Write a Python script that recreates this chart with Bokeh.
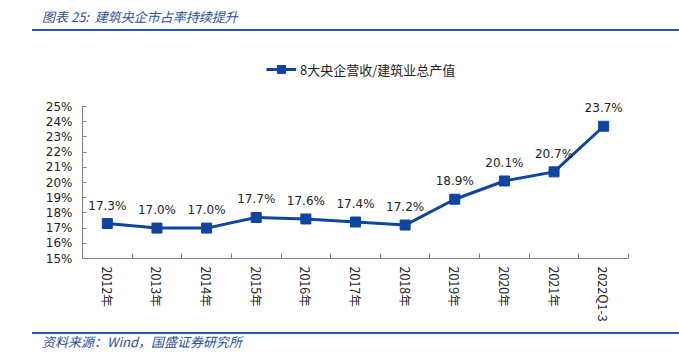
import math
from bokeh.plotting import figure
from bokeh.layouts import column
from bokeh.core.properties import value
from bokeh.models import (Range1d, FixedTicker, LabelSet, Div,
                          ColumnDataSource, Legend, LegendItem)
from bokeh.embed import file_html
from bokeh.resources import INLINE

categories = ["2012年", "2013年", "2014年", "2015年", "2016年", "2017年",
              "2018年", "2019年", "2020年", "2021年", "2022Q1-3"]
share = [17.3, 17.0, 17.0, 17.7, 17.6, 17.4, 17.2, 18.9, 20.1, 20.7, 23.7]
y_ticks = list(range(15, 26))
series_name = "8大央企营收/建筑业总产值"
title_text = "图表 25:&nbsp; 建筑央企市占率持续提升"
source_text = "资料来源：Wind，国盛证券研究所"

W = 679
TOP_H, BOT_H = 36, 30
FIG_H = 356 - TOP_H - BOT_H
FL, FR, FB = 82, 628, 258
Y_LO, Y_HI = 15, 25
PX_PER_UNIT = (258 - 106) / (Y_HI - Y_LO)
FT = 50
y_end = Y_HI + (106 - FT) / PX_PER_UNIT

BLUE = "#0E45A0"
HEAD = "#2A4F9E"
RULE = "#2E5AAC"
NUM_FONT = "DejaVu Sans"
CJK = "Noto Sans CJK SC"

n = len(categories)
xs = [i + 0.5 for i in range(n)]
src = ColumnDataSource(dict(x=xs, y=share, lab=[f"{v:.1f}%" for v in share]))

p = figure(width=W, height=FIG_H, output_backend="svg", toolbar_location=None,
           x_range=Range1d(0, n), y_range=Range1d(Y_LO, y_end),
           min_border_left=FL, min_border_right=W - FR,
           min_border_top=FT - TOP_H, min_border_bottom=TOP_H + FIG_H - FB)
p.outline_line_color = None
p.xgrid.visible = False
p.ygrid.visible = False

p.yaxis.ticker = FixedTicker(ticks=y_ticks)
p.yaxis.bounds = (Y_LO, Y_HI)
p.yaxis.major_label_overrides = {v: f"{v}%" for v in y_ticks}
p.yaxis.major_tick_in = 4
p.yaxis.major_tick_out = 0
p.yaxis.minor_tick_in = 0
p.yaxis.minor_tick_out = 0
p.yaxis.axis_line_color = "#808080"
p.yaxis.major_tick_line_color = "#808080"
p.yaxis.major_label_text_font = NUM_FONT
p.yaxis.major_label_text_font_size = "12px"
p.yaxis.major_label_text_color = "#222222"
p.yaxis.major_label_standoff = 10

p.xaxis.ticker = FixedTicker(ticks=xs, minor_ticks=list(range(n + 1)))
p.xaxis.major_label_overrides = {x: c for x, c in zip(xs, categories)}
p.xaxis.major_tick_in = 0
p.xaxis.major_tick_out = 0
p.xaxis.minor_tick_in = 5
p.xaxis.minor_tick_out = 0
p.xaxis.axis_line_color = "#808080"
p.xaxis.minor_tick_line_color = "#808080"
p.xaxis.major_label_orientation = -math.pi / 2
p.xaxis.major_label_text_font = CJK
p.xaxis.major_label_text_font_size = "12.5px"
p.xaxis.major_label_text_color = "#222222"
p.xaxis.major_label_standoff = 8

lr = p.line("x", "y", source=src, line_color=BLUE, line_width=3)
sr = p.scatter("x", "y", source=src, marker="square", size=10,
               fill_color=BLUE, line_color=BLUE)

labels = LabelSet(x="x", y="y", text="lab", source=src, text_align="center",
                  text_baseline="middle", y_offset=18, text_font=value(NUM_FONT),
                  text_font_size=value("12px"), text_color="#222222")
p.add_layout(labels)

legend = Legend(items=[LegendItem(label=series_name, renderers=[lr, sr])],
                location=(266 - FL, FB - 79), orientation="horizontal",
                glyph_width=30, glyph_height=20, label_standoff=4,
                padding=0, margin=0, border_line_color=None,
                background_fill_alpha=0,
                label_text_font=CJK, label_text_font_size="13px",
                label_text_color="#222222")
p.add_layout(legend, "center")

top = Div(width=W, height=TOP_H, margin=0, text=(
    f'<div style="position:relative;width:{W}px;height:{TOP_H}px">'
    f'<span style="position:absolute;left:42px;top:8px;font-family:\'{CJK}\';'
    f'font-style:italic;font-size:13px;line-height:18px;color:{HEAD};white-space:nowrap">{title_text}</span>'
    f'<div style="position:absolute;left:32px;top:29px;width:{W-32}px;height:2px;background:{RULE}"></div>'
    '</div>'))
bot = Div(width=W, height=BOT_H, margin=0, text=(
    f'<div style="position:relative;width:{W}px;height:{BOT_H}px">'
    f'<div style="position:absolute;left:32px;top:{333-326-1}px;width:{W-32}px;height:2px;background:{RULE}"></div>'
    f'<span style="position:absolute;left:42px;top:{342-326-9}px;font-family:\'{CJK}\';'
    f'font-style:italic;font-size:13px;line-height:18px;color:{HEAD};white-space:nowrap">{source_text}</span>'
    '</div>'))

layout = column(top, p, bot, spacing=0)
open("out.html", "w").write(file_html(layout, INLINE))
